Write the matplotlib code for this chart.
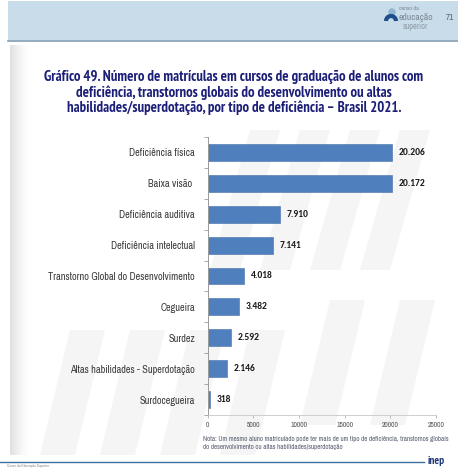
import numpy as np
import matplotlib
matplotlib.use("Agg")
import matplotlib.pyplot as plt
from matplotlib.patches import Rectangle, Polygon, Arc, Circle

categories = [
    "Deficiência física",
    "Baixa visão ",
    "Deficiência auditiva",
    "Deficiência intelectual",
    "Transtorno Global do Desenvolvimento",
    "Cegueira",
    "Surdez",
    "Altas habilidades - Superdotação",
    "Surdocegueira",
]
values = [20206, 20172, 7910, 7141, 4018, 3482, 2592, 2146, 318]
value_labels = ["20.206", "20.172", "7.910", "7.141", "4.018", "3.482", "2.592", "2.146", "318"]
x_ticks = [0, 5000, 10000, 15000, 20000, 25000]

title = ("Gráfico 49. Número de matrículas em cursos de graduação de alunos com\n"
         "deficiência, transtornos globais do desenvolvimento ou altas\n"
         "habilidades/superdotação, por tipo de deficiência – Brasil 2021.")
note = ("Nota: Um mesmo aluno matriculado pode ter mais de um tipo de deficiência, transtornos globais\n"
        "do desenvolvimento ou altas habilidades/superdotação")

W, H = 458, 468
fig = plt.figure(figsize=(W / 100, H / 100), dpi=100)
fig.patch.set_facecolor("white")

narrow = ["Archivo Narrow", "PT Sans Narrow", "DejaVu Sans"]
narrow_bold = ["PT Sans Narrow", "Archivo Narrow", "DejaVu Sans"]
calibri_like = ["Carlito", "Lato", "DejaVu Sans"]

# page decorations in pixel space
bg = fig.add_axes([0, 0, 1, 1], zorder=0)
bg.set_xlim(0, W)
bg.set_ylim(H, 0)
bg.axis("off")

# header band
bg.add_patch(Rectangle((8, 1), W - 8, 39, facecolor="#c9dcea", edgecolor="none"))
bg.plot([8, W], [40.5, 40.5], color="#7f9db5", lw=1.2)

# left page shadow
grad = np.linspace(0, 1, 64)[None, :]
bg.imshow(np.dstack([np.full_like(grad, 0.78)] * 3 + [0.55 * (1 - grad) ** 1.5]),
          extent=(10, 30, 455, 45), aspect="auto", zorder=0.5)

# faint watermark strokes
wm = "#f5f5f5"
for px, py in [(250, 130), (300, 130), (350, 130), (400, 130)]:
    bg.add_patch(Polygon([(px, py), (px + 30, py), (px - 10, py + 140), (px - 40, py + 140)],
                         closed=True, facecolor=wm, edgecolor="none", zorder=0.2))
for px, py in [(70, 330), (130, 330), (190, 330), (250, 330), (330, 300), (400, 300)]:
    bg.add_patch(Polygon([(px, py), (px + 35, py), (px + 5, py + 125), (px - 30, py + 125)],
                         closed=True, facecolor=wm, edgecolor="none", zorder=0.2))

# header logo
bg.add_patch(Circle((392, 12), 3.0, color="#8fb7cf", zorder=2))
bg.add_patch(Arc((391, 21), 10, 10, theta1=180, theta2=360, color="#1f4e8c", lw=3, zorder=2))
bg.text(399, 8.5, "censo da", fontsize=4.2, color="#7d8a96", va="center", ha="left", family=narrow)
bg.text(399, 17.5, "educação", fontsize=7.0, color="#7d8a96", va="center", ha="left", family=narrow)
bg.text(403, 26.5, "superior", fontsize=6.0, color="#8f9ba6", va="center", ha="left", family=narrow)
bg.text(446, 17.5, "71", fontsize=6.5, color="#5b6670", va="center", ha="left", family=narrow)

# title
bg.text(234, 92.5, title, fontsize=10.6, fontweight="bold", color="#1c1f78",
        ha="center", va="center", linespacing=1.05, family=narrow_bold)

# note
bg.text(203, 443, note, fontsize=5.0, color="#555c6e", ha="left", va="center",
        linespacing=1.45, family=narrow)

# footer
bg.plot([0, 424], [461.5, 461.5], color="#3d6fa0", lw=1.0)
bg.text(7, 465.5, "Censo da Educação Superior", fontsize=2.8, color="#8a8a8a",
        ha="left", va="center", family=narrow)
bg.text(428, 461.5, "inep", fontsize=8, fontweight="bold", color="#1f3b7a",
        ha="left", va="center", family=narrow_bold)

# bar chart
ax = fig.add_axes([207.5 / W, 1 - 415 / H, (436 - 207.5) / W, (415 - 137) / H], zorder=2)
ax.patch.set_alpha(0)
y = np.arange(len(categories))
ax.barh(y, values, height=0.55, color="#4f7fbd", edgecolor="#456fa8", linewidth=0.4)
ax.set_ylim(len(categories) - 0.5, -0.5)
ax.set_xlim(0, 25000)

for yi, v, lab in zip(y, values, value_labels):
    ax.text(v + 700, yi, lab, fontsize=6.8, fontweight="bold", color="#1a1a1a",
            ha="left", va="center", family=calibri_like)

ax.set_yticks(y)
ax.set_yticklabels(categories, fontsize=7.4, color="#3a3a3a", family=narrow)
ax.set_yticks(np.arange(len(categories) + 1) - 0.5, minor=True)
ax.tick_params(axis="y", which="major", length=0, pad=9)
ax.tick_params(axis="y", which="minor", length=3, color="#9a9a9a", width=0.6)

ax.set_xticks(x_ticks)
ax.set_xticklabels([str(t) for t in x_ticks], fontsize=5.4, color="#555555", family=narrow)
ax.tick_params(axis="x", length=2, color="#b0b0b0", width=0.6, pad=3)

for side in ["top", "right"]:
    ax.spines[side].set_visible(False)
ax.spines["left"].set_color("#9a9a9a")
ax.spines["left"].set_linewidth(0.7)
ax.spines["bottom"].set_color("#c8c8c8")
ax.spines["bottom"].set_linewidth(0.6)

fig.savefig("out.png", dpi=100, facecolor="white")
